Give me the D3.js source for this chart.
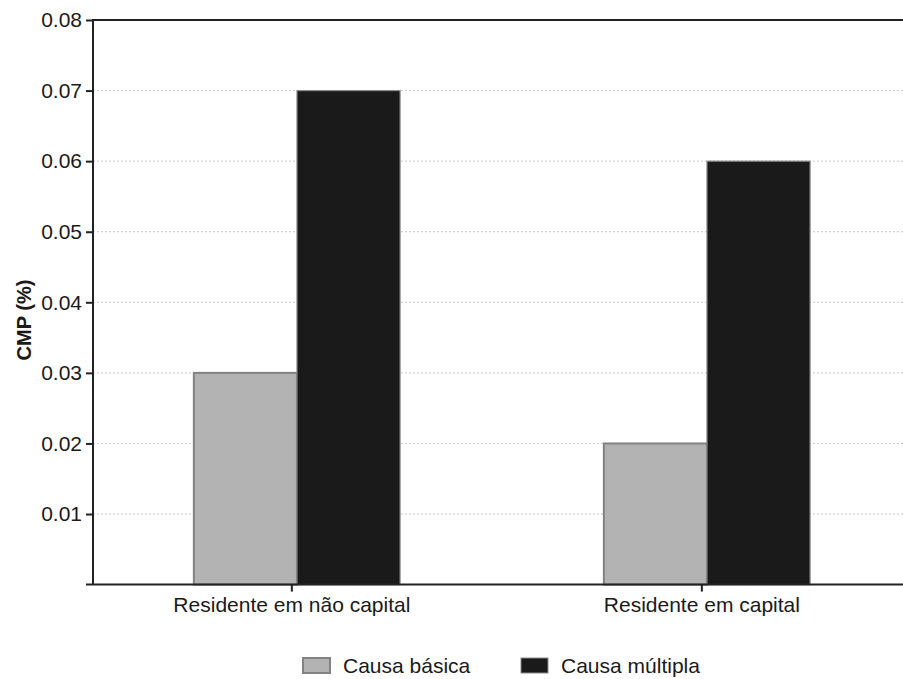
<!DOCTYPE html>
<html><head><meta charset="utf-8">
<script src="https://cdn.jsdelivr.net/npm/d3@7"></script>
<style>body{margin:0;background:#fff}svg{display:block}text{font-family:"Liberation Sans",Arial,sans-serif;fill:#1a1a1a}</style>
</head><body>
<svg id="c" width="903" height="679"></svg>
<script>
const categories = ["Residente em não capital", "Residente em capital"];
const seriesNames = ["Causa básica", "Causa múltipla"];
const causaBasica = [0.03, 0.02];
const causaMultipla = [0.07, 0.06];
const yTicks = [0.01, 0.02, 0.03, 0.04, 0.05, 0.06, 0.07, 0.08];
const yTitle = "CMP (%)";
const colors = ["#b3b3b3", "#1a1a1a"];
const strokes = ["#828282", "#8a8a8a"];

const svg = d3.select("#c");
const L = 93, R = 903, T = 20, B = 584.6;
const x0 = d3.scaleBand().domain(categories).range([L, L + 820]).padding(0);
const bw = x0.bandwidth();
const x1 = d3.scaleBand().domain(seriesNames).range([bw * 0.246, bw * 0.749]).padding(0);
const y = d3.scaleLinear().domain([0, 0.08]).range([B, T]);
const FS = 21;

// grid
svg.append("g").selectAll("line").data(yTicks.filter(d => d < 0.08)).join("line")
  .attr("x1", L).attr("x2", R).attr("y1", d => y(d)).attr("y2", d => y(d))
  .attr("stroke", "#c8c8c8").attr("stroke-width", 1).attr("stroke-dasharray", "2,2");

// bars
const data = categories.map((c, i) => ({c, vals: [causaBasica[i], causaMultipla[i]]}));
const g = svg.append("g").selectAll("g").data(data).join("g")
  .attr("transform", d => `translate(${x0(d.c)},0)`);
g.selectAll("rect").data(d => d.vals.map((v, j) => ({s: seriesNames[j], v, j}))).join("rect")
  .attr("x", d => x1(d.s)).attr("width", x1.bandwidth())
  .attr("y", d => y(d.v)).attr("height", d => y(0) - y(d.v))
  .attr("fill", d => colors[d.j]).attr("stroke", d => strokes[d.j])
  .attr("stroke-width", d => d.j === 0 ? 2 : 1.2);

// y axis
const yAx = svg.append("g").attr("transform", `translate(${L},0)`)
  .call(d3.axisLeft(y).tickValues(yTicks).tickSize(7).tickPadding(4).tickFormat(d3.format(".2f")));
yAx.select(".domain").attr("stroke", "#222").attr("stroke-width", 2).attr("d", `M0,${T}V${B}`);
yAx.selectAll(".tick line").attr("stroke", "#222").attr("stroke-width", 2);
yAx.selectAll(".tick text").attr("font-size", FS).attr("font-family", "Liberation Sans, Arial, sans-serif").attr("fill", "#1a1a1a");

// top border
svg.append("line").attr("x1", L - 1).attr("x2", R).attr("y1", T).attr("y2", T)
  .attr("stroke", "#222").attr("stroke-width", 2);

// x axis
const xAx = svg.append("g").attr("transform", `translate(0,${B})`)
  .call(d3.axisBottom(x0).tickSize(7).tickPadding(5));
xAx.selectAll(".tick").attr("transform", d => `translate(${x0(d) + bw * 0.485},0)`);
xAx.select(".domain").attr("stroke", "#222").attr("stroke-width", 2).attr("d", `M${L - 7},0H${R}`);
xAx.selectAll(".tick line").attr("stroke", "#222").attr("stroke-width", 2);
xAx.selectAll(".tick text").attr("font-size", FS).attr("font-family", "Liberation Sans, Arial, sans-serif").attr("fill", "#1a1a1a");

// y title
svg.append("text").attr("transform", "translate(31,320) rotate(-90)")
  .attr("text-anchor", "middle").attr("font-size", 20).attr("font-weight", "bold").text(yTitle);

// legend
const legX = [302, 520];
const leg = svg.append("g").selectAll("g").data(seriesNames).join("g")
  .attr("transform", (d, i) => `translate(${legX[i]},657)`);
leg.append("rect").attr("x", 1).attr("y", 1).attr("width", 27).attr("height", 15)
  .attr("fill", (d, i) => colors[i]).attr("stroke", (d, i) => strokes[i]).attr("stroke-width", (d, i) => i === 0 ? 2 : 1);
leg.append("text").attr("x", 41).attr("y", 16).attr("font-size", FS).text(d => d);
</script>
</body></html>
